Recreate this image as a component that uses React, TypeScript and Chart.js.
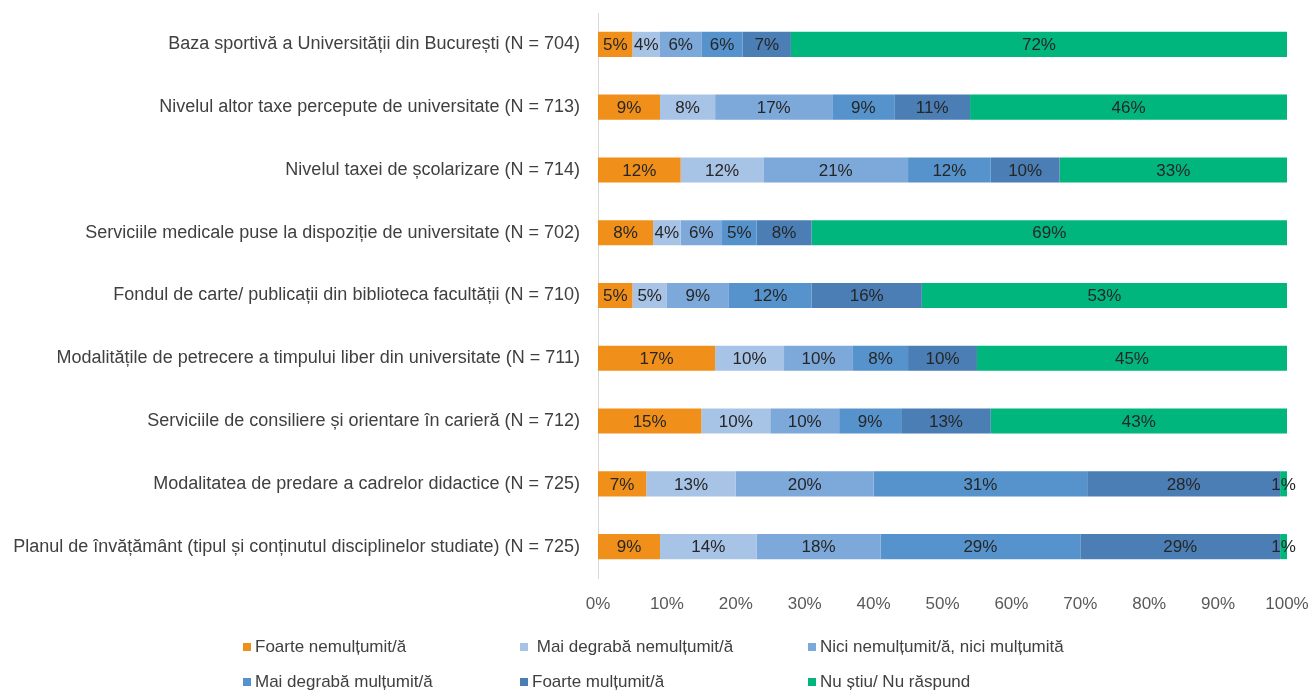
import React, { useEffect, useRef } from "react";
import { Chart, registerables } from "chart.js";

Chart.register(...registerables);

const categories = [
  "Baza sportivă a Universității din București (N = 704)",
  "Nivelul altor taxe percepute de universitate (N = 713)",
  "Nivelul taxei de școlarizare (N = 714)",
  "Serviciile medicale puse la dispoziție de universitate (N = 702)",
  "Fondul de carte/ publicații din biblioteca facultății (N = 710)",
  "Modalitățile de petrecere a timpului liber din universitate (N = 711)",
  "Serviciile de consiliere și orientare în carieră (N = 712)",
  "Modalitatea de predare a cadrelor didactice (N = 725)",
  "Planul de învățământ (tipul și conținutul disciplinelor studiate) (N = 725)",
];

const seriesNames = [
  "Foarte nemulțumit/ă",
  " Mai degrabă nemulțumit/ă",
  "Nici nemulțumit/ă, nici mulțumită",
  "Mai degrabă mulțumit/ă",
  "Foarte mulțumit/ă",
  "Nu știu/ Nu răspund",
];

const foarteNemultumit = [5, 9, 12, 8, 5, 17, 15, 7, 9];
const maiDegrabaNemultumit = [4, 8, 12, 4, 5, 10, 10, 13, 14];
const niciNiciMultumit = [6, 17, 21, 6, 9, 10, 10, 20, 18];
const maiDegrabaMultumit = [6, 9, 12, 5, 12, 8, 9, 31, 29];
const foarteMultumit = [7, 11, 10, 8, 16, 10, 13, 28, 29];
const nuStiu = [72, 46, 33, 69, 53, 45, 43, 1, 1];

const xTicks = [0, 10, 20, 30, 40, 50, 60, 70, 80, 90, 100];

const seriesValues = [
  foarteNemultumit,
  maiDegrabaNemultumit,
  niciNiciMultumit,
  maiDegrabaMultumit,
  foarteMultumit,
  nuStiu,
];

const colors = ["#F0901A", "#A7C3E6", "#7CA8DA", "#5693CC", "#4A7EB4", "#00B67C"];

const FONT = "'Liberation Sans', Arial, sans-serif";

const labelPlugin = {
  id: "segLabels",
  afterDatasetsDraw(chart: any) {
    const ctx = chart.ctx;
    ctx.save();
    ctx.font = `17px ${FONT}`;
    ctx.fillStyle = "#262626";
    ctx.textAlign = "center";
    ctx.textBaseline = "middle";
    chart.data.datasets.forEach((ds: any, di: number) => {
      const meta = chart.getDatasetMeta(di);
      meta.data.forEach((el: any, i: number) => {
        const v = ds.data[i];
        const cx = (el.x + el.base) / 2;
        ctx.fillText(`${v}%`, cx, el.y + 1);
      });
    });
    ctx.restore();
  },
};

export default function App() {
  const ref = useRef<HTMLCanvasElement | null>(null);

  useEffect(() => {
    if (!ref.current) return;
    const chart = new Chart(ref.current, {
      type: "bar",
      data: {
        labels: categories,
        datasets: seriesNames.map((name, i) => ({
          label: name,
          data: seriesValues[i],
          backgroundColor: colors[i],
          borderWidth: 0,
          categoryPercentage: 1,
          barPercentage: 0.4,
        })),
      },
      options: {
        indexAxis: "y",
        responsive: false,
        animation: false,
        layout: { padding: { left: 0, right: 24, top: 13, bottom: 0 } },
        plugins: {
          legend: { display: false },
          tooltip: { enabled: false },
        },
        scales: {
          x: {
            stacked: true,
            min: 0,
            max: 100,
            afterBuildTicks: (scale: any) => {
              scale.ticks = xTicks.map((v) => ({ value: v }));
            },
            afterFit: (scale: any) => {
              scale.height = 691 - 13 - 565;
              scale.paddingLeft = 0;
              scale.paddingRight = 0;
            },
            grid: { display: false, drawTicks: false },
            border: { display: false },
            ticks: {
              padding: 16,
              color: "#595959",
              font: { family: FONT, size: 17 },
              callback: (v: any) => `${v}%`,
              maxRotation: 0,
            },
          },
          y: {
            stacked: true,
            afterFit: (scale: any) => {
              scale.width = 598;
              scale.paddingTop = 0;
              scale.paddingBottom = 0;
            },
            grid: { display: false, drawTicks: false },
            border: { display: true, color: "#D9D9D9", width: 1 },
            ticks: {
              padding: 18,
              color: "#404040",
              font: { family: FONT, size: 18 },
            },
          },
        },
      },
      plugins: [labelPlugin],
    });
    return () => chart.destroy();
  }, []);

  const legendCols = [243, 520, 808];
  const legendRows = [647, 682];

  return (
    <div style={{ position: "absolute", left: 0, top: 0, width: 1311, height: 691, background: "#fff", overflow: "hidden" }}>
      <canvas ref={ref} width={1311} height={691} style={{ display: "block" }} />
      {seriesNames.map((name, i) => {
        const col = i % 3;
        const row = Math.floor(i / 3);
        return (
          <div
            key={i}
            style={{
              position: "absolute",
              left: legendCols[col],
              top: legendRows[row] - 11,
              height: 22,
              display: "flex",
              alignItems: "center",
              fontFamily: FONT,
              fontSize: 17,
              color: "#404040",
              whiteSpace: "pre",
            }}
          >
            <span style={{ display: "inline-block", width: 8, height: 8, background: colors[i], marginRight: 4 }} />
            <span>{name}</span>
          </div>
        );
      })}
    </div>
  );
}
